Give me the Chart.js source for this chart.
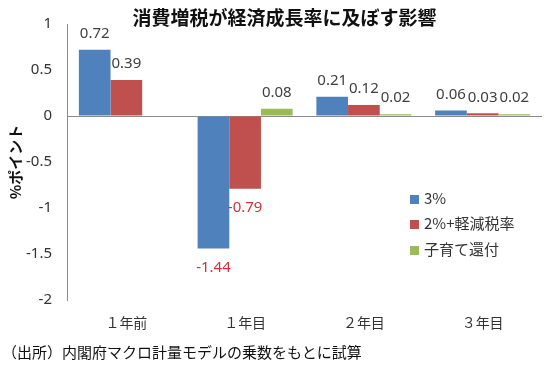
<!DOCTYPE html>
<html lang="ja">
<head>
<meta charset="utf-8">
<script src="https://cdn.jsdelivr.net/npm/chart.js@4.4.1/dist/chart.umd.min.js"></script>
<style>
  html, body { margin: 0; padding: 0; background: #fff; }
  #wrap { position: relative; width: 550px; height: 368px; font-family: "Noto Sans CJK JP", sans-serif; }
  #wrap canvas { position: absolute; left: 0; top: 0; }
  .title { position: absolute; left: 0; width: 569px; top: 5px; line-height: 24px; text-align: center; font-size: 19px; font-weight: bold; color: #111; }
  .footer { position: absolute; left: 2px; top: 340px; line-height: 24px; font-size: 15px; color: #111; white-space: nowrap; }
  .legend-row { position: absolute; left: 410px; height: 24px; line-height: 24px; font-size: 15px; color: #333; white-space: nowrap; }
  .legend-row i { display: inline-block; width: 9px; height: 9px; margin-right: 5px; vertical-align: 0px; }
</style>
</head>
<body>
<div id="wrap">
  <canvas id="chart" width="550" height="368"></canvas>
  <div class="title" id="title"></div>
  <div id="legend"></div>
  <div class="footer" id="footer"></div>
</div>
<script>
// データ
const chartTitle = '消費増税が経済成長率に及ぼす影響';
const footNote = '（出所）内閣府マクロ計量モデルの乗数をもとに試算';
const yTitle = '%ポイント';
const categories = ['１年前', '１年目', '２年目', '３年目'];
const seriesNames = ['3%', '2%+軽減税率', '子育て還付'];
const seriesColors = ['#4F81BD', '#C0504D', '#9BBB59'];
const tax3 = [0.72, -1.44, 0.21, 0.06];
const tax2Reduced = [0.39, -0.79, 0.12, 0.03];
const childRefund = [null, 0.08, 0.02, 0.02];
const yTicks = [1, 0.5, 0, -0.5, -1, -1.5, -2];

const seriesValues = [tax3, tax2Reduced, childRefund];

document.getElementById('title').textContent = chartTitle;
document.getElementById('footer').textContent = footNote;

// 凡例（HTML）
const legendRowsY = [186, 211, 237];
const legendEl = document.getElementById('legend');
seriesNames.forEach((name, i) => {
  const row = document.createElement('div');
  row.className = 'legend-row';
  row.style.top = legendRowsY[i] + 'px';
  const box = document.createElement('i');
  box.style.background = seriesColors[i];
  row.appendChild(box);
  row.appendChild(document.createTextNode(name));
  legendEl.appendChild(row);
});

// 棒の上下に値ラベルを描く
const valueLabels = {
  id: 'valueLabels',
  afterDatasetsDraw(chart) {
    const ctx = chart.ctx;
    ctx.save();
    ctx.font = '15px "Noto Sans", "Noto Sans CJK JP", sans-serif';
    ctx.textAlign = 'center';
    ctx.textBaseline = 'middle';
    chart.data.datasets.forEach((ds, i) => {
      chart.getDatasetMeta(i).data.forEach((bar, j) => {
        const v = ds.data[j];
        if (v === null || v === undefined) return;
        if (v < 0) {
          ctx.fillStyle = '#C8363A';
          ctx.fillText(v.toFixed(2), bar.x, bar.y + 19);
        } else {
          ctx.fillStyle = '#404040';
          ctx.fillText(v.toFixed(2), bar.x, bar.y - 16);
        }
      });
    });
    ctx.restore();
  }
};

new Chart(document.getElementById('chart'), {
  type: 'bar',
  data: {
    labels: categories,
    datasets: seriesNames.map((name, i) => ({
      label: name,
      data: seriesValues[i],
      backgroundColor: seriesColors[i],
      borderWidth: 0,
      categoryPercentage: 0.8,
      barPercentage: 1.0
    }))
  },
  options: {
    responsive: false,
    animation: false,
    layout: { padding: { top: 24, right: 8, bottom: 38, left: 0 } },
    plugins: {
      legend: { display: false },
      tooltip: { enabled: false }
    },
    scales: {
      x: {
        grid: { display: false, drawTicks: false },
        border: { display: false },
        ticks: { color: '#333', padding: 14, font: { family: '"Noto Sans CJK JP", sans-serif', size: 14 } },
        afterFit: s => { s.height = 30; }
      },
      y: {
        min: -2,
        max: 1,
        afterBuildTicks: s => { s.ticks = yTicks.map(v => ({ value: v })); },
        grid: {
          drawTicks: false,
          color: c => (c.tick && c.tick.value === 0 ? '#8C8C8C' : 'rgba(0,0,0,0)'),
          lineWidth: 1
        },
        border: { display: true, color: '#8C8C8C' },
        ticks: {
          color: '#333',
          padding: 15,
          font: { family: '"Noto Sans", sans-serif', size: 15 },
          callback: v => String(v)
        },
        title: {
          display: true,
          text: yTitle,
          color: '#111',
          padding: { top: 6, bottom: 0 },
          font: { family: '"Noto Sans CJK JP", sans-serif', size: 15, weight: 'bold' }
        },
        afterFit: s => { s.width = 67; }
      }
    }
  },
  plugins: [valueLabels]
});
</script>
</body>
</html>
